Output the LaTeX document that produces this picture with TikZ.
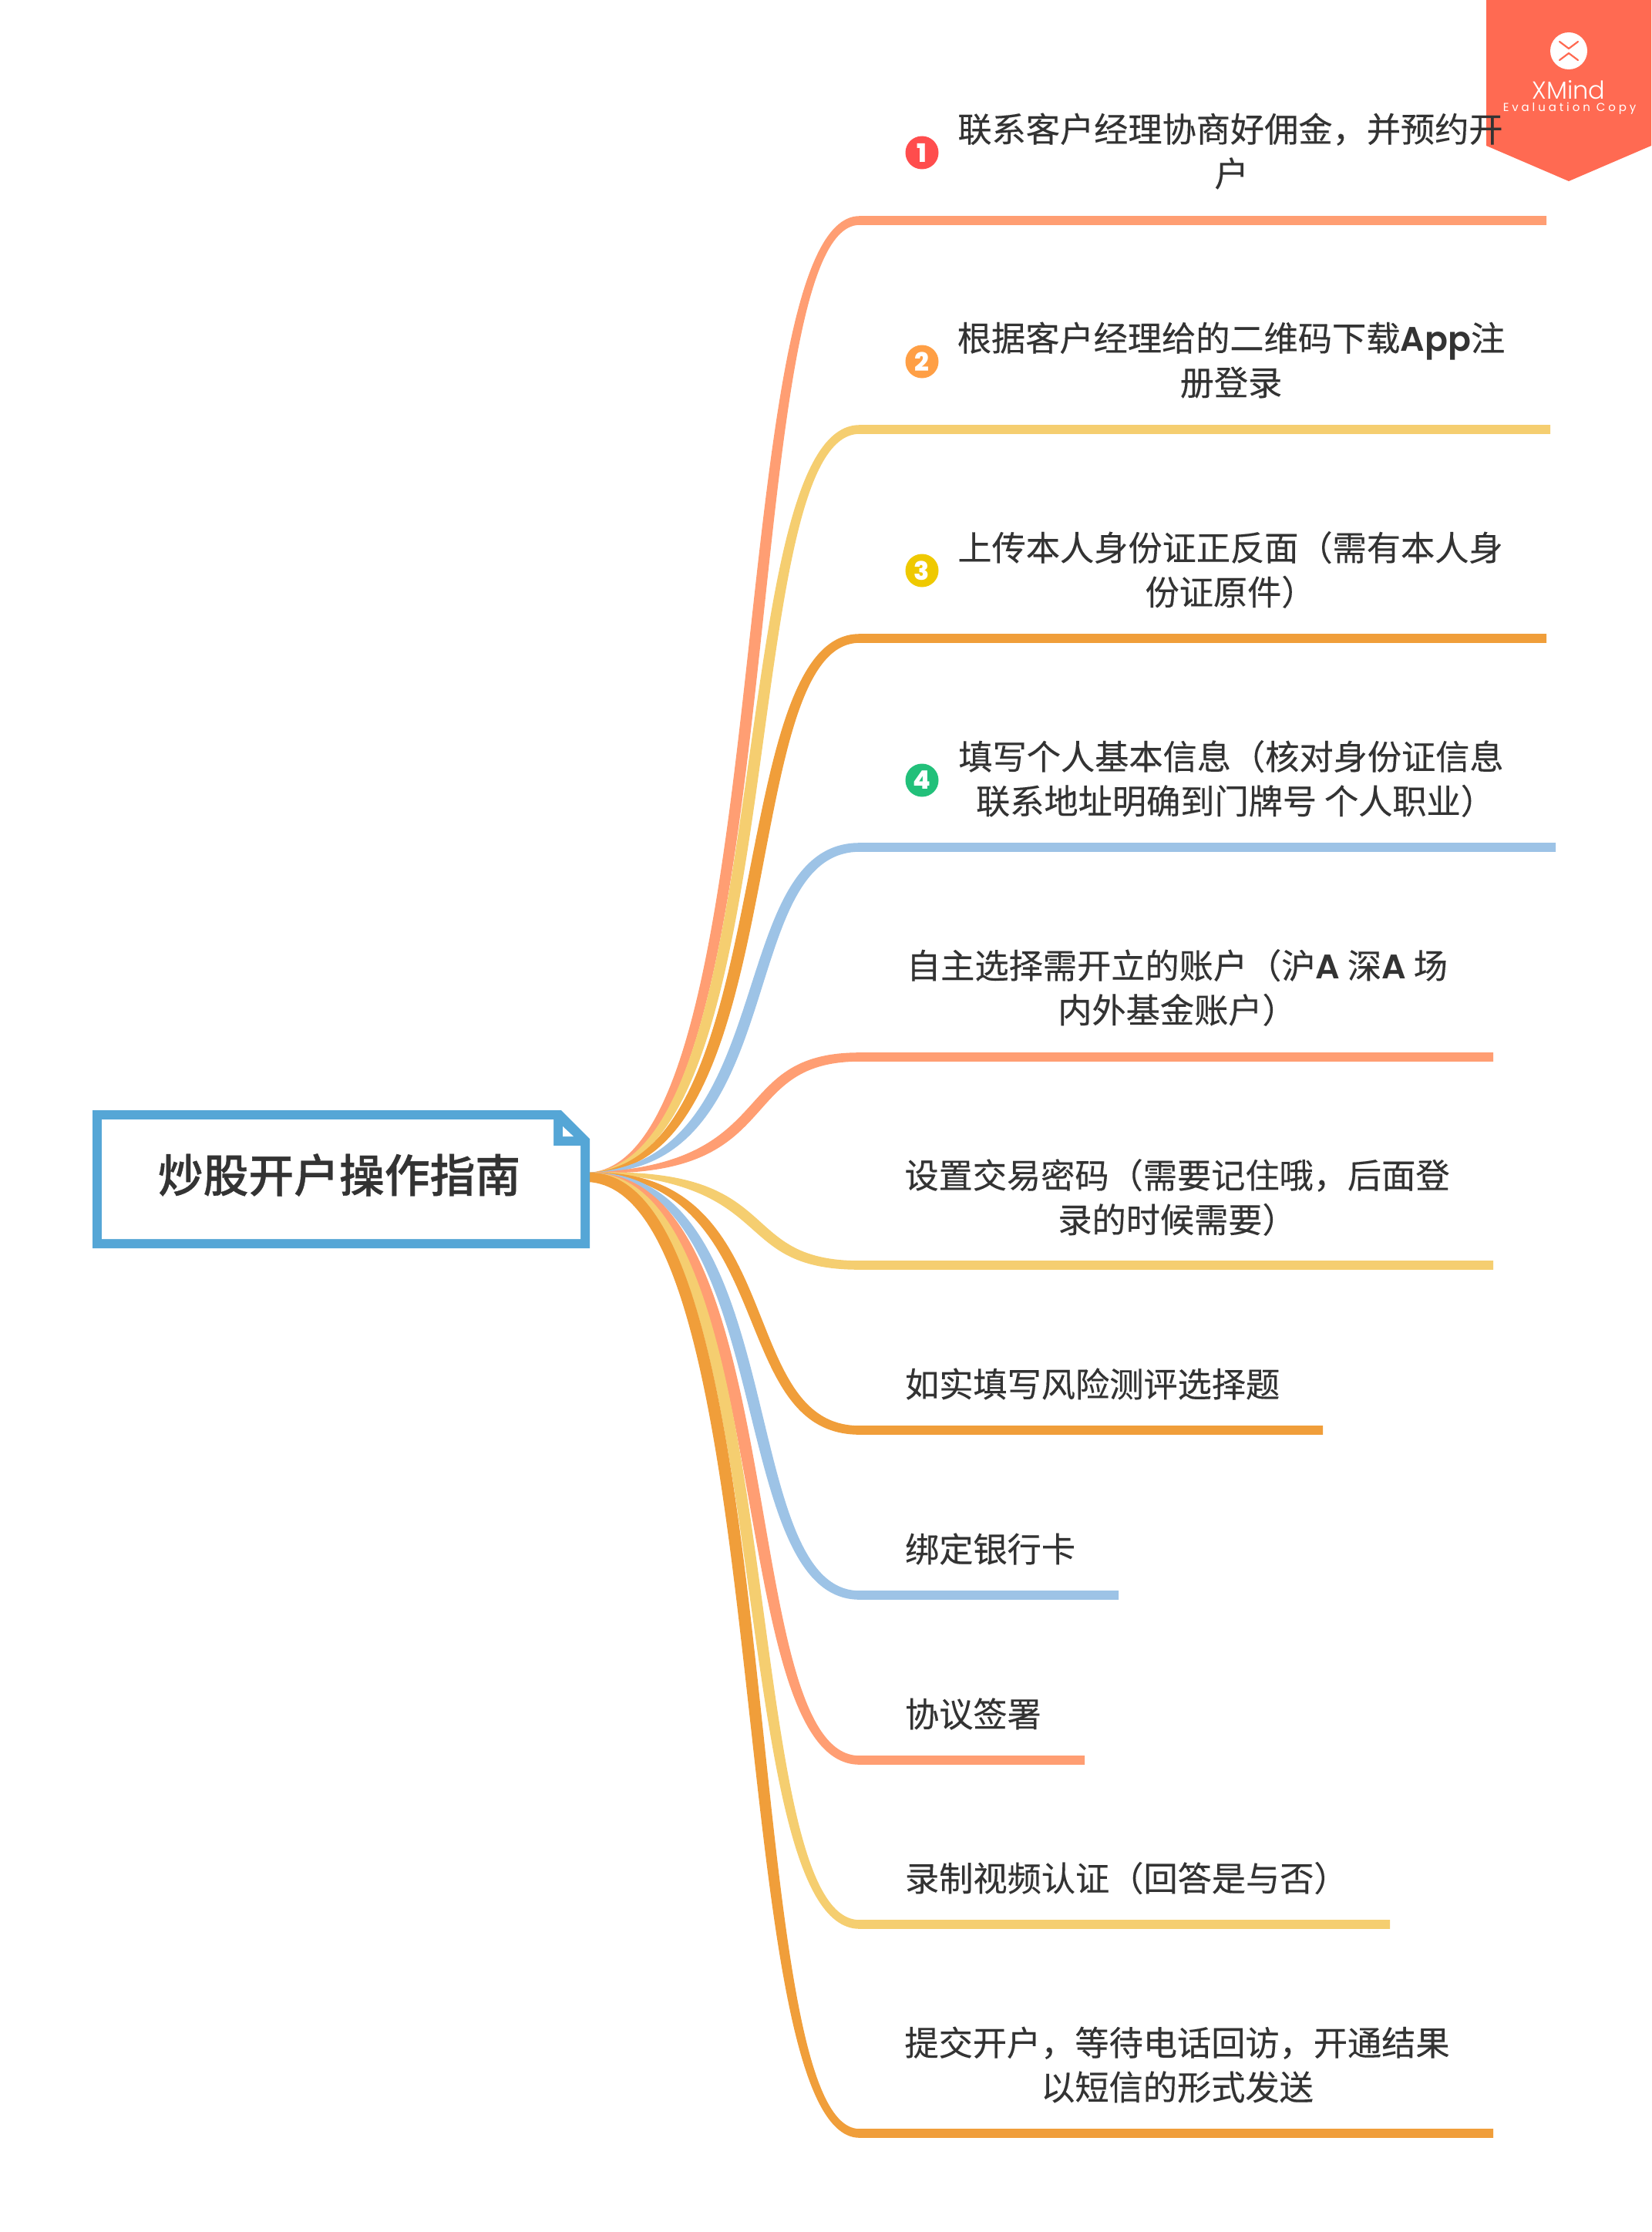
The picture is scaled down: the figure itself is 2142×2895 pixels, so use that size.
\documentclass[tikz,border=0pt]{standalone}
\usepackage{fontspec}
\usetikzlibrary{calc}
\setmainfont[FakeBold=0.25]{Noto Sans CJK SC}
\newfontfamily\titlefont[FakeBold=0.6]{Noto Sans CJK SC Medium}
\newfontfamily\lat{Poppins SemiBold}
\newfontfamily\latb{Poppins ExtraBold}
\newfontfamily\wm{Poppins Light}
\newfontfamily\wmsp[LetterSpace=26]{Poppins}
\definecolor{txt}{HTML}{333333}
\definecolor{salmon}{HTML}{FF9E73}
\definecolor{yel}{HTML}{F5CE70}
\definecolor{org}{HTML}{F09E3A}
\definecolor{blu}{HTML}{9DC3E6}
\definecolor{boxb}{HTML}{55A6D6}
\definecolor{wmc}{HTML}{FF6A52}
\definecolor{mred}{HTML}{FF4D4D}
\definecolor{morg}{HTML}{FF9F45}
\definecolor{myel}{HTML}{EFC900}
\definecolor{mgrn}{HTML}{22C07A}
\tikzset{
  topic/.style={inner sep=0pt,outer sep=0pt,text=txt,align=center,font=\fontsize{22.1}{28.8}\selectfont},
  topicl/.style={topic,anchor=west},
  badge/.style={circle,minimum size=21.5pt,inner sep=0pt,text=white,font=\latb\fontsize{16.5}{16.5}\selectfont},
}
\newcommand{\branch}[7]{% id, colour, end x, end y, base top, base bottom, sign
  \coordinate (end#1) at (#3,#4);
  \fill[#2] ($(hub)+(0,#5)$) .. controls (1020-9*#7,1521+#5-10) and (945-9*#7,#4-5.8) .. (1115,#4-5.8)
    -- ($(end#1)+(0,-5.8)$) -- ($(end#1)+(0,5.8)$) -- (1115,#4+5.8)
    .. controls (945+9*#7,#4+5.8) and (1020+9*#7,1521+#6+10) .. ($(hub)+(0,#6)$) -- cycle;
}
\begin{document}
\begin{tikzpicture}[x=0.5pt,y=-0.5pt]
\useasboundingbox (0,0) rectangle (2142,2895);
\coordinate (hub) at (762,1521);
% watermark
\fill[wmc] (1928,0) -- (2142,0) -- (2142,189) -- (2035,235) -- (1928,189) -- cycle;
\fill[white] (2035,66) circle[radius=24];
\draw[wmc,line width=1.1pt,line cap=round,line join=round] (2023,54) -- (2035,63) -- (2047,54) (2023,78) -- (2035,69) -- (2047,78);
\node[white,font=\wm\fontsize{16}{16}\selectfont,inner sep=0pt] (wm1) at (2035,117) {XMind};
\node[white,font=\wmsp\fontsize{7.5}{8}\selectfont,inner sep=0pt] (wm2) at (2036,141) {Evaluation Copy};
% branches
\branch{b1}{salmon}{2006}{286}{0}{0}{1}
\branch{b2}{yel}{2011}{557}{0}{0}{1}
\branch{b3}{org}{2006}{828}{0}{0}{1}
\branch{b4}{blu}{2018}{1099}{0}{0}{0.8}
\branch{b5}{salmon}{1937}{1371}{0}{0}{0.45}
\branch{b6}{yel}{1937}{1641}{0}{0}{-0.45}
\branch{b7}{org}{1716}{1855}{0}{0}{-0.7}
\branch{b8}{blu}{1451}{2069}{0}{0}{-0.9}
\branch{b9}{salmon}{1407}{2283}{0}{0}{-1}
\branch{b10}{yel}{1803}{2496}{0}{0}{-1}
\branch{b11}{org}{1937}{2767}{0}{12}{-1}
% central topic
\fill[boxb] (120,1440) -- (728,1440) -- (765,1477) -- (765,1619) -- (120,1619) -- cycle;
\fill[white] (132,1452) -- (718,1452) -- (718,1486) -- (753,1486) -- (753,1607) -- (132,1607) -- cycle;
\fill[white] (730,1461) -- (744,1474) -- (730,1474) -- cycle;
\node[inner sep=0pt,text=txt,font=\titlefont\fontsize{29.4}{36}\selectfont] (title) at (440,1524) {炒股开户操作指南};
% topics
\node[topic] (t1) at (1596,196) {联系客户经理协商好佣金，并预约开\\\hspace{1.5pt}户};
\node[topic] (t2) at (1597,467) {根据客户经理给的二维码下载{\lat App}注\\册登录};
\node[topic] (t3) at (1596,739) {上传本人身份证正反面（需有本人身\\份证原件）};
\node[topic] (t4) at (1597,1010) {填写个人基本信息（核对身份证信息\\\hspace{5.5pt}联系地址明确到门牌号 个人职业）};
\node[topic] (t5) at (1527,1281) {自主选择需开立的账户（沪{\lat A} 深{\lat A} 场\\内外基金账户）};
\node[topic] (t6) at (1527,1553) {设置交易密码（需要记住哦，后面登\\录的时候需要）};
\node[topicl] (t7) at (1174,1795) {如实填写风险测评选择题};
\node[topicl] (t8) at (1174,2009) {绑定银行卡};
\node[topicl] (t9) at (1174,2223) {协议签署};
\node[topicl] (t10) at (1174,2436) {录制视频认证（回答是与否）};
\node[topic] (t11) at (1527,2678) {提交开户，等待电话回访，开通结果\\以短信的形式发送};
% badges
\node[badge,fill=mred] (m1) at (1196,198) {1};
\node[badge,fill=morg] (m2) at (1196,469) {2};
\node[badge,fill=myel] (m3) at (1196,740) {3};
\node[badge,fill=mgrn] (m4) at (1196,1012) {4};
\end{tikzpicture}
\end{document}
